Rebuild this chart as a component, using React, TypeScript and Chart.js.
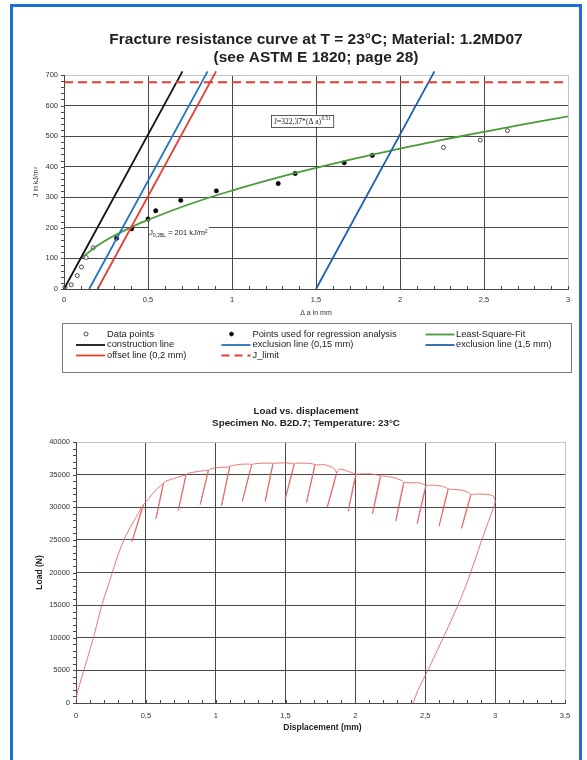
import React, { useEffect, useRef } from 'react';
import { Chart, registerables } from 'chart.js';

Chart.register(...registerables);

const SANS = '"Liberation Sans", Arial, Helvetica, sans-serif';
const SERIF = '"Liberation Serif", "Times New Roman", serif';

// ---------------- Chart 1: fracture resistance curve ----------------
const topTitleLines = ['Fracture resistance curve at T = 23°C; Material: 1.2MD07', '(see ASTM E 1820; page 28)'];
const topXTitle = 'Δ a in mm';
const topYTitle = 'J in kJ/m²';
const topXTickLabels = ['0', '0,5', '1', '1,5', '2', '2,5', '3'];
const topYTickLabels = ['0', '100', '200', '300', '400', '500', '600', '700'];

const dataPointsDeltaA = [0.006, 0.043, 0.079, 0.104, 0.132, 0.174, 2.259, 2.478, 2.64];
const dataPointsJ = [6, 14, 44, 72, 103, 135, 463, 487, 518];
const regressionDeltaA = [0.313, 0.403, 0.5, 0.546, 0.695, 0.907, 1.275, 1.376, 1.668, 1.835];
const regressionJ = [166, 197, 229, 256, 290, 321, 345, 378, 413, 437];
const fitDeltaA = [0.1, 0.2, 0.3, 0.4, 0.5, 0.75, 1, 1.25, 1.5, 1.75, 2, 2.25, 2.5, 2.75, 3];
const fitJ = [100, 142, 175, 202, 226, 278, 322, 361, 396, 429, 459, 488, 514, 540, 565];
const constructionDeltaA = [0, 0.705];
const constructionJ = [0, 712];
const exclusion015DeltaA = [0.15, 0.855];
const exclusion015J = [0, 712];
const offsetDeltaA = [0.2, 0.905];
const offsetJ = [0, 712];
const exclusion15DeltaA = [1.5, 2.205];
const exclusion15J = [0, 712];
const jLimitDeltaA = [0, 3];
const jLimitJ = [676, 676];

const legendLabels = [
  'Data points',
  'Points used for regression analysis',
  'Least-Square-Fit',
  'construction line',
  'exclusion line (0,15 mm)',
  'exclusion line (1,5 mm)',
  'offset line (0,2 mm)',
  'J_limit',
];

const fitEquationMain = 'J=322,37*(Δ a)';
const fitEquationExp = '0.51';
const fitEquationAt = { x: 1.235, y: 570 };
const jblParts = ['J', '0,2BL', ' = 201 kJ/m²'];
const jblAt = { x: 0.5, y: 200 };

// ---------------- Chart 2: load vs displacement ----------------
const botTitleLines = ['Load vs. displacement', 'Specimen No. B2D.7; Temperature: 23°C'];
const botXTitle = 'Displacement (mm)';
const botYTitle = 'Load (N)';
const botXTickLabels = ['0', '0,5', '1', '1,5', '2', '2,5', '3', '3,5'];
const botYTickLabels = ['0', '5000', '10000', '15000', '20000', '25000', '30000', '35000', '40000'];

const loadingDisp = [0, 0.005, 0.05, 0.124, 0.184, 0.243, 0.3, 0.36, 0.42];
const loadingLoad = [0, 1200, 4600, 9940, 14920, 18850, 22650, 25800, 28100];
const unloadTopDisp = [0.481, 0.625, 0.787, 0.947, 1.1, 1.257, 1.41, 1.562, 1.71, 1.865, 2.003, 2.18, 2.346, 2.504, 2.663, 2.826];
const unloadTopLoad = [30300, 33600, 34900, 35600, 36200, 36500, 36700, 36600, 36500, 35250, 35000, 34750, 33750, 33250, 32750, 31900];
const unloadBottomDisp = [0.4, 0.572, 0.732, 0.889, 1.042, 1.19, 1.354, 1.497, 1.65, 1.798, 1.948, 2.122, 2.289, 2.442, 2.599, 2.759];
const unloadBottomLoad = [24700, 28250, 29500, 30400, 30250, 30900, 30900, 31250, 30750, 30000, 29400, 29000, 27900, 27500, 27100, 26750];
const arcStartDisp = [0.52, 0.644, 0.811, 0.966, 1.12, 1.276, 1.43, 1.586, 1.722, 1.889, 2.032, 2.21, 2.377, 2.532, 2.687, 2.854];
const arcStartLoad = [31300, 34000, 35250, 35900, 36400, 36650, 36750, 36750, 36500, 35850, 35100, 34750, 33750, 33400, 32750, 32000];
const arcMidDisp = [0.565, 0.715, 0.882, 1.025, 1.19, 1.335, 1.5, 1.645, 1.781, 1.948, 2.115, 2.282, 2.449, 2.616, 2.77, 2.926];
const arcMidLoad = [32500, 34500, 35500, 36100, 36600, 36750, 36800, 36750, 36500, 35500, 35100, 34500, 33750, 33250, 32600, 32000];
const arcEndDisp = [0.6, 0.768, 0.93, 1.085, 1.24, 1.395, 1.545, 1.69, 1.836, 1.989, 2.163, 2.33, 2.489, 2.647, 2.809, 2.985];
const arcEndLoad = [33200, 34850, 35650, 36150, 36600, 36750, 36700, 36650, 36100, 35200, 34900, 34100, 33500, 33000, 32250, 31750];
const finalUnloadDisp = [3.0, 2.95, 2.9, 2.806, 2.735, 2.627, 2.52, 2.449, 2.413];
const finalUnloadLoad = [30800, 27700, 24700, 18850, 15030, 9940, 5090, 2030, 0];

// ---------------- styles ----------------
const GREEN = '#4a9a3c';
const BLUE1 = '#2474c2';
const BLUE2 = '#1f5fae';
const RED = '#e63b2f';
const BLACK = '#111111';
const GRID = '#474747';
const EDGE = '#c4c4c4';
const TEXT = '#333333';
const CURVE = 'rgb(232,100,100)';

const pts = (xs: number[], ys: number[]) => xs.map((x, i) => ({ x, y: ys[i] }));

function buildLoadPath() {
  const p = pts(loadingDisp, loadingLoad);
  for (let i = 0; i < unloadTopDisp.length; i++) {
    p.push({ x: unloadTopDisp[i], y: unloadTopLoad[i] });
    p.push({ x: unloadBottomDisp[i], y: unloadBottomLoad[i] });
    p.push({ x: unloadTopDisp[i], y: unloadTopLoad[i] });
    p.push({ x: arcStartDisp[i], y: arcStartLoad[i] });
    p.push({ x: arcMidDisp[i], y: arcMidLoad[i] });
    p.push({ x: arcEndDisp[i], y: arcEndLoad[i] });
  }
  return p.concat(pts(finalUnloadDisp, finalUnloadLoad));
}

function drawMinorTicks(chart: any, xStep: number, yStep: number) {
  const { ctx, chartArea: ca, scales } = chart;
  const xs = scales.x;
  const ys = scales.y;
  ctx.save();
  ctx.strokeStyle = GRID;
  ctx.lineWidth = 1;
  ctx.beginPath();
  for (let v = xs.min; v <= xs.max + 1e-9; v += xStep) {
    const px = Math.round(xs.getPixelForValue(v)) + 0.5;
    ctx.moveTo(px, ca.bottom + 1);
    ctx.lineTo(px, ca.bottom - 3);
  }
  for (let v = ys.min; v <= ys.max + 1e-9; v += yStep) {
    const py = Math.round(ys.getPixelForValue(v)) + 0.5;
    ctx.moveTo(ca.left - 3, py);
    ctx.lineTo(ca.left + 1, py);
  }
  ctx.stroke();
  ctx.restore();
}

const topDecor = {
  id: 'topDecor',
  afterDraw(chart: any) {
    const { ctx, chartArea: ca, scales } = chart;
    const xs = scales.x;
    const ys = scales.y;
    drawMinorTicks(chart, 0.1, 20);
    ctx.save();
    const cx = (ca.left + ca.right) / 2;
    // titles
    ctx.fillStyle = '#222';
    ctx.textAlign = 'center';
    ctx.textBaseline = 'middle';
    ctx.font = `bold 15.5px ${SANS}`;
    ctx.fillText(topTitleLines[0], cx, 40);
    ctx.fillText(topTitleLines[1], cx, 58);
    // axis titles
    ctx.fillStyle = TEXT;
    ctx.font = `7px ${SANS}`;
    ctx.fillText(topXTitle, cx, ca.bottom + 24);
    ctx.save();
    ctx.translate(36, (ca.top + ca.bottom) / 2);
    ctx.rotate(-Math.PI / 2);
    ctx.fillText(topYTitle, 0, 0);
    ctx.restore();

    // fit equation box
    const ex = xs.getPixelForValue(fitEquationAt.x);
    const ey = ys.getPixelForValue(fitEquationAt.y);
    ctx.font = `7.6px ${SERIF}`;
    const wMain = ctx.measureText(fitEquationMain).width;
    ctx.font = `5.2px ${SERIF}`;
    const wExp = ctx.measureText(fitEquationExp).width;
    const bw = wMain + wExp + 6;
    ctx.fillStyle = '#fff';
    ctx.fillRect(ex, ey, bw, 12);
    ctx.strokeStyle = '#333';
    ctx.lineWidth = 0.8;
    ctx.strokeRect(Math.round(ex) + 0.5, Math.round(ey) + 0.5, bw, 12);
    ctx.fillStyle = '#222';
    ctx.textAlign = 'left';
    ctx.textBaseline = 'alphabetic';
    ctx.font = `7.6px ${SERIF}`;
    ctx.fillText(fitEquationMain, ex + 2.5, ey + 9);
    ctx.font = `5.2px ${SERIF}`;
    ctx.fillText(fitEquationExp, ex + 2.5 + wMain + 0.5, ey + 5.5);

    // J0,2BL label
    const jx = xs.getPixelForValue(jblAt.x);
    const jy = ys.getPixelForValue(jblAt.y);
    ctx.fillStyle = '#fff';
    ctx.fillRect(jx + 1, jy - 3, 60, 14);
    ctx.fillStyle = '#222';
    ctx.font = `8px ${SANS}`;
    ctx.fillText(jblParts[0], jx + 1, jy + 7.5);
    const wJ = ctx.measureText(jblParts[0]).width;
    ctx.font = `5px ${SANS}`;
    ctx.fillText(jblParts[1], jx + 1 + wJ, jy + 9.5);
    const wS = ctx.measureText(jblParts[1]).width;
    ctx.font = `7.5px ${SANS}`;
    ctx.fillText(jblParts[2], jx + 1 + wJ + wS, jy + 7.5);

    // legend
    const box = { l: 62, t: 323, r: 571, b: 372 };
    ctx.strokeStyle = '#777';
    ctx.lineWidth = 1;
    ctx.strokeRect(box.l + 0.5, box.t + 0.5, box.r - box.l, box.b - box.t);
    const colMark = [76, 221.5, 425.5];
    const colText = [107, 252.5, 456];
    const rowY = [334, 344.5, 355];
    const kinds = [
      { kind: 'open' },
      { kind: 'filled' },
      { kind: 'line', color: GREEN },
      { kind: 'line', color: BLACK },
      { kind: 'line', color: BLUE1 },
      { kind: 'line', color: BLUE2 },
      { kind: 'line', color: RED },
      { kind: 'dash', color: RED },
    ];
    ctx.font = `9.3px ${SANS}`;
    ctx.textBaseline = 'middle';
    kinds.forEach((k: any, i) => {
      const c = i % 3;
      const r = Math.floor(i / 3);
      const y = rowY[r];
      const x0 = colMark[c];
      if (k.kind === 'open' || k.kind === 'filled') {
        ctx.beginPath();
        ctx.arc(x0 + 10, y, 2, 0, Math.PI * 2);
        ctx.fillStyle = k.kind === 'open' ? '#fff' : '#000';
        ctx.fill();
        ctx.strokeStyle = '#222';
        ctx.lineWidth = 0.8;
        ctx.stroke();
      } else {
        ctx.beginPath();
        ctx.strokeStyle = k.color;
        ctx.lineWidth = 1.8;
        ctx.setLineDash(k.kind === 'dash' ? [8, 5] : []);
        ctx.moveTo(x0, y + 0.5);
        ctx.lineTo(x0 + 29, y + 0.5);
        ctx.stroke();
        ctx.setLineDash([]);
      }
      ctx.fillStyle = '#222';
      ctx.fillText(legendLabels[i], colText[c], y);
    });
    ctx.restore();
  },
};

const botDecor = {
  id: 'botDecor',
  afterDraw(chart: any) {
    const { ctx, chartArea: ca } = chart;
    drawMinorTicks(chart, 0.1, 1000);
    ctx.save();
    ctx.fillStyle = '#222';
    ctx.textAlign = 'center';
    ctx.textBaseline = 'middle';
    ctx.font = `bold 9.8px ${SANS}`;
    ctx.fillText(botTitleLines[0], 306, 21.7);
    ctx.fillText(botTitleLines[1], 306, 33.3);
    ctx.font = `bold 8.5px ${SANS}`;
    ctx.fillText(botXTitle, (ca.left + ca.right) / 2 + 2, ca.bottom + 25);
    ctx.save();
    ctx.translate(40, (ca.top + ca.bottom) / 2);
    ctx.rotate(-Math.PI / 2);
    ctx.fillText(botYTitle, 0, 0);
    ctx.restore();
    ctx.restore();
  },
};

function axisOpts(min: number, max: number, step: number, labels: string[], edgeValue: number, fixed: { width?: number; height?: number }, pad: number) {
  return {
    type: 'linear',
    min,
    max,
    ticks: {
      stepSize: step,
      autoSkip: false,
      padding: pad,
      color: TEXT,
      font: { family: SANS, size: 7.5 },
      callback: (v: number) => labels[Math.round(v / step)] ?? '',
    },
    grid: {
      drawTicks: false,
      lineWidth: 1,
      color: (c: any) => (c.tick && Math.abs(c.tick.value - edgeValue) < 1e-9 ? EDGE : GRID),
    },
    border: { color: GRID, width: 1 },
    afterFit: (s: any) => {
      if (fixed.width !== undefined) s.width = fixed.width;
      if (fixed.height !== undefined) s.height = fixed.height;
    },
  };
}

export default function App() {
  const topRef = useRef<HTMLCanvasElement>(null);
  const botRef = useRef<HTMLCanvasElement>(null);

  useEffect(() => {
    const lineDs = (label: string, xs: number[], ys: number[], color: string, extra: any = {}) => ({
      label,
      data: pts(xs, ys),
      showLine: true,
      borderColor: color,
      backgroundColor: color,
      borderWidth: 1.8,
      pointRadius: 0,
      clip: false,
      ...extra,
    });
    const top = new Chart(topRef.current as HTMLCanvasElement, {
      type: 'scatter',
      data: {
        datasets: [
          lineDs(legendLabels[7], jLimitDeltaA, jLimitJ, RED, { borderWidth: 2, borderDash: [9, 5] }),
          lineDs(legendLabels[3], constructionDeltaA, constructionJ, BLACK),
          lineDs(legendLabels[4], exclusion015DeltaA, exclusion015J, BLUE1),
          lineDs(legendLabels[6], offsetDeltaA, offsetJ, RED),
          lineDs(legendLabels[5], exclusion15DeltaA, exclusion15J, BLUE2),
          lineDs(legendLabels[2], fitDeltaA, fitJ, GREEN, { tension: 0.4, clip: 0 }),
          {
            label: legendLabels[0],
            data: pts(dataPointsDeltaA, dataPointsJ),
            pointRadius: 2,
            pointBackgroundColor: '#fff',
            pointBorderColor: '#222',
            pointBorderWidth: 0.8,
            showLine: false,
            clip: false,
          },
          {
            label: legendLabels[1],
            data: pts(regressionDeltaA, regressionJ),
            pointRadius: 2.2,
            pointBackgroundColor: '#000',
            pointBorderColor: '#000',
            pointBorderWidth: 0.5,
            showLine: false,
          },
        ],
      },
      options: {
        responsive: false,
        animation: false,
        devicePixelRatio: 1,
        layout: { padding: { left: 0, top: 75, right: 19, bottom: 66 } },
        plugins: { legend: { display: false }, title: { display: false }, tooltip: { enabled: false } },
        events: [],
        scales: {
          x: axisOpts(0, 3, 0.5, topXTickLabels, 3, { height: 30 }, 6) as any,
          y: axisOpts(0, 700, 100, topYTickLabels, 700, { width: 64 }, 6) as any,
        },
      },
      plugins: [topDecor],
    } as any);

    const bot = new Chart(botRef.current as HTMLCanvasElement, {
      type: 'scatter',
      data: {
        datasets: [
          {
            label: 'Load',
            data: buildLoadPath(),
            showLine: true,
            borderColor: CURVE,
            borderWidth: 0.9,
            pointRadius: 0,
            tension: 0.2,
          },
        ],
      },
      options: {
        responsive: false,
        animation: false,
        devicePixelRatio: 1,
        layout: { padding: { left: 0, top: 52, right: 22, bottom: 27 } },
        plugins: { legend: { display: false }, title: { display: false }, tooltip: { enabled: false } },
        events: [],
        scales: {
          x: axisOpts(0, 3.5, 0.5, botXTickLabels, 3.5, { height: 30 }, 8) as any,
          y: axisOpts(0, 40000, 5000, botYTickLabels, 40000, { width: 76 }, 6) as any,
        },
      },
      plugins: [botDecor],
    } as any);

    return () => {
      top.destroy();
      bot.destroy();
    };
  }, []);

  return (
    <div style={{ position: 'fixed', left: 0, top: 0, width: 587, height: 760, overflow: 'hidden', background: '#fff' }}>
      <canvas ref={topRef} width={587} height={385} style={{ position: 'absolute', left: 0, top: 0, width: 587, height: 385 }} />
      <canvas ref={botRef} width={587} height={370} style={{ position: 'absolute', left: 0, top: 390, width: 587, height: 370 }} />
      <div
        style={{
          position: 'absolute',
          left: 10,
          top: 4,
          width: 572,
          height: 820,
          border: '3px solid #1a6fd6',
          boxSizing: 'border-box',
          pointerEvents: 'none',
        }}
      />
    </div>
  );
}
